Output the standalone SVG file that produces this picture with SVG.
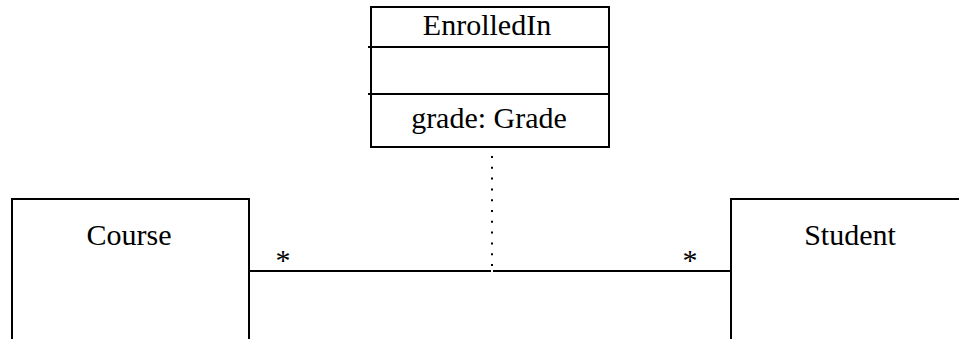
<svg xmlns="http://www.w3.org/2000/svg" width="959" height="339" viewBox="0 0 959 339">
  <style>
    .box { fill: #fff; stroke: #000; stroke-width: 2; }
    .line { fill: none; stroke: #000; stroke-width: 2; }
    .dots { fill: none; stroke: #000; stroke-width: 2; stroke-dasharray: 2 8.8; }
  </style>
  <rect width="959" height="339" fill="#fff"/>

  <!-- all labels share one serif face -->
  <g font-family="Liberation Serif, Times New Roman, Tinos, Noto Serif, DejaVu Serif, serif" font-size="30" fill="#000" text-anchor="middle">
    <g id="connectors">
      <line class="line" x1="249" y1="271" x2="491" y2="271"/>
      <line class="line" x1="493" y1="271" x2="731" y2="271"/>
      <line class="dots" x1="492" y1="156" x2="492" y2="270"/>
      <text x="283" y="270">*</text>
      <text x="690" y="270">*</text>
    </g>

    <g id="enrolledin">
      <rect class="box" x="371" y="7" width="238" height="140"/>
      <line class="line" x1="368" y1="47" x2="609" y2="47"/>
      <line class="line" x1="368" y1="94" x2="609" y2="94"/>
      <text x="487" y="35">EnrolledIn</text>
      <text x="489" y="128">grade: Grade</text>
    </g>

    <g id="course">
      <rect class="box" x="12" y="199" width="237" height="160"/>
      <text x="129" y="245">Course</text>
    </g>

    <g id="student">
      <rect class="box" x="731" y="199" width="260" height="160"/>
      <text x="850" y="245">Student</text>
    </g>
  </g>
</svg>
